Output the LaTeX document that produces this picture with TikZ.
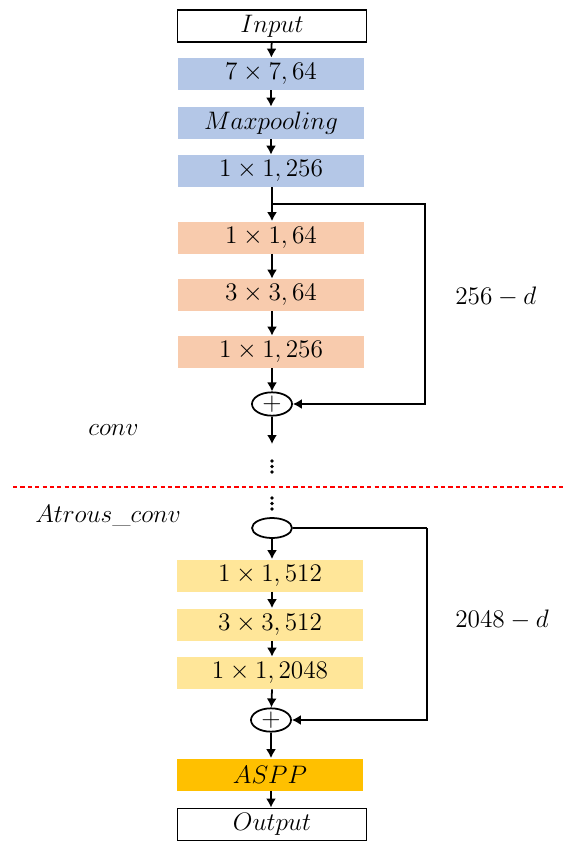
\documentclass[tikz,border=0pt]{standalone}
\usepackage{amssymb}
\usepackage{amsmath}
\usepackage{tikz}
\usetikzlibrary{arrows.meta,shapes.geometric}
\definecolor{convblue}{RGB}{180,199,231}
\definecolor{convorange}{RGB}{248,203,173}
\definecolor{atrousyellow}{RGB}{255,230,153}
\definecolor{asppgold}{RGB}{255,192,0}
\tikzstyle{layer}=[rectangle, minimum width=3.72cm, minimum height=0.64cm, inner sep=0pt, font=\fontsize{15}{17}\selectfont]
\tikzstyle{layerblue}=[layer, fill=convblue]
\tikzstyle{layerorange}=[layer, fill=convorange]
\tikzstyle{layeryellow}=[layer, fill=atrousyellow]
\tikzstyle{layergold}=[layer, fill=asppgold]
\tikzstyle{io}=[layer, draw=black, line width=1.1pt, minimum width=3.78cm, fill=white]
\tikzstyle{sum}=[ellipse, draw, line width=1pt, minimum width=0.8cm, minimum height=0.46cm, inner sep=0pt, font=\fontsize{14}{16}\selectfont]
\tikzstyle{tag}=[anchor=west, inner sep=0pt, font=\fontsize{15}{17}\selectfont]
\tikzstyle{arrow}=[draw=black, line width=1pt, -{Latex[length=1.8mm,width=2mm]}]
\tikzstyle{line}=[draw=black, line width=1pt]

\begin{document}
\begin{tikzpicture}[x=0.02cm, y=-0.02cm]
		   \useasboundingbox (0,0) rectangle (573,842);
		   \begin{scope}
			   \node (input) at (272,26)[io] {$Input$};
			   \node (conv1) at (271,74)[layerblue] {$7\times7,64$};
			   \node (pool) at (271,123)[layerblue] {$Maxpooling$};
			   \node (conv2) at (271,171)[layerblue] {$1\times1,256$};
			   \node (res1a) at (271,237.5)[layerorange] {$1\times1,64$};
			   \node (res1b) at (271,295)[layerorange] {$3\times3,64$};
			   \node (res1c) at (271,352)[layerorange] {$1\times1,256$};
			   \node (sum1) at (272,404)[sum] {$+$};
			   \node (sum2) at (272,528)[sum, minimum height=0.4cm] {};
			   \node (res2a) at (270,575.5)[layeryellow] {$1\times1,512$};
			   \node (res2b) at (270,624.5)[layeryellow] {$3\times3,512$};
			   \node (res2c) at (270,673)[layeryellow] {$1\times1,2048$};
			   \node (sum3) at (271,720)[sum] {$+$};
			   \node (aspp) at (270,774.5)[layergold] {$ASPP$};
			   \node (output) at (272,824.5)[io] {$Output$};
			   \node (dim1) at (455,297)[tag] {$256-d$};
			   \node (dim2) at (455,620)[tag] {$2048-d$};
			   \node (convtag) at (88,430)[tag] {$conv$};
			   \node (atroustag) at (35,516)[tag] {$Atrous\_conv$};
			   \coordinate (split1) at (272,204);
			   \coordinate (corner1a) at (425,204);
			   \coordinate (corner1b) at (425,404);
			   \coordinate (out1) at (272,444);
			   \coordinate (corner2a) at (427,528);
			   \coordinate (corner2b) at (427,720);
			   \coordinate (cutleft) at (13,487);
			   \coordinate (cutright) at (566,487);
		   \end{scope}
		   \begin{scope}
			   \path [arrow] (input) -- (conv1);
			   \path [arrow] (conv1) -- (pool);
			   \path [arrow] (pool) -- (conv2);
			   \path [arrow] (conv2.south -| split1) -- (res1a.north -| split1);
			   \path [arrow] (res1a.south -| split1) -- (res1b.north -| split1);
			   \path [arrow] (res1b.south -| split1) -- (res1c.north -| split1);
			   \path [arrow] (res1c.south -| split1) -- (sum1);
			   \path [arrow] (split1) -- (corner1a) -- (corner1b) -- (sum1);
			   \path [arrow] (sum1) -- (out1);
			   \foreach \y in {461,466.5,472,498,503.5,509}
			       \fill (272,\y) circle (1.8);
			   \path [draw=red, line width=1.4pt, dash pattern=on 2.4pt off 1.8pt] (cutleft) -- (cutright);
			   \path [arrow] (sum2) -- (sum2 |- res2a.north);
			   \path [line] (sum2) -- (corner2a);
			   \path [arrow] (corner2a) -- (corner2b) -- (sum3);
			   \path [arrow] (res2a.south -| sum2) -- (res2b.north -| sum2);
			   \path [arrow] (res2b.south -| sum2) -- (res2c.north -| sum2);
			   \path [arrow] (res2c.south -| sum2) -- (sum3);
			   \path [arrow] (sum3) -- (aspp.north -| sum3);
			   \path [arrow] (aspp.south -| sum3) -- (output.north -| sum3);
		   \end{scope}
	   \end{tikzpicture}
\end{document}
